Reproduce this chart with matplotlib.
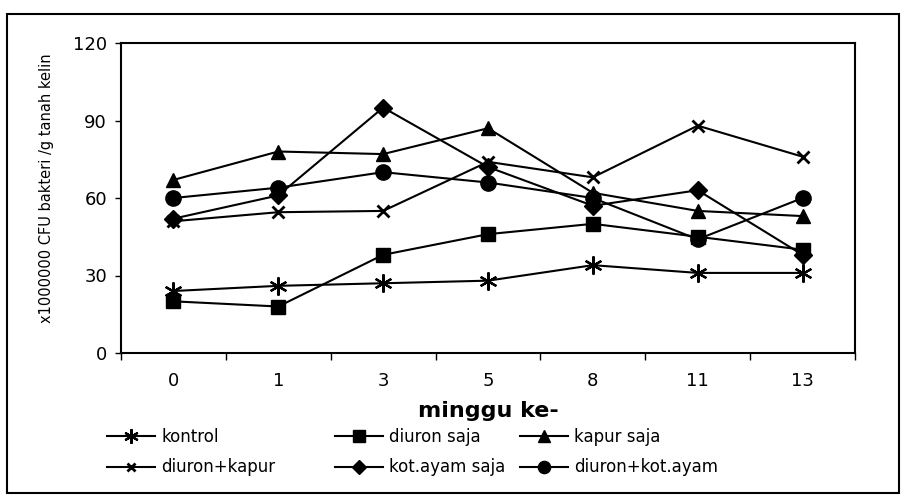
import numpy as np
from matplotlib import pyplot as plt
from matplotlib.patches import Rectangle

plt.rcParams['font.family'] = ['DejaVu Sans']

weeks = ["0", "1", "3", "5", "8", "11", "13"]

kontrol = [24, 26, 27, 28, 34, 31, 31]
diuron_saja = [20, 18, 38, 46, 50, 45, 40]
kapur_saja = [67, 78, 77, 87, 62, 55, 53]
diuron_kapur = [51, 54.5, 55, 74, 68, 88, 76]
kot_ayam_saja = [52, 61, 95, 72, 57, 63, 38]
diuron_kot_ayam = [60, 64, 70, 66, 60, 44, 60]

series = [
    ("kontrol", kontrol, (6, 2, 0), 13, 1.6),
    ("diuron+kapur", diuron_kapur, "x", 8, 2.0),
    ("diuron saja", diuron_saja, "s", 10, 1.0),
    ("kot.ayam saja", kot_ayam_saja, "D", 9, 1.0),
    ("kapur saja", kapur_saja, "^", 10, 1.0),
    ("diuron+kot.ayam", diuron_kot_ayam, "o", 11, 1.0),
]

fig = plt.figure(figsize=(9.06, 4.97), dpi=100)
ax = fig.add_axes([121 / 906, 1 - 353 / 497, 734 / 906, 310 / 497])

x = np.arange(len(weeks))
handles = []
for name, vals, mk, ms, mew in series:
    h, = ax.plot(x, vals, color="black", lw=1.5, marker=mk, markersize=ms,
                 markeredgewidth=mew, markerfacecolor="black",
                 markeredgecolor="black", label=name)
    handles.append(h)

ax.set_xlim(-0.5, len(weeks) - 0.5)
ax.set_ylim(0, 120)
ax.set_yticks([0, 30, 60, 90, 120])
ax.tick_params(axis="y", labelsize=13, length=4, width=1, pad=6)
ax.set_xticks(x)
ax.set_xticklabels(weeks)
ax.tick_params(axis="x", which="major", length=0, labelsize=13, pad=14)
ax.set_xticks(np.arange(-0.5, len(weeks) + 0.5), minor=True)
ax.tick_params(axis="x", which="minor", length=5, width=1)
for s in ax.spines.values():
    s.set_linewidth(1.5)

ax.set_xlabel("minggu ke-", fontsize=16, fontweight="bold", labelpad=0)
ax.xaxis.set_label_coords(0.5, -0.155)
fig.text(47 / 906, 1 - 188 / 497, "x1000000 CFU bakteri /g tanah kelin",
         rotation=90, ha="center", va="center", fontsize=10.5)

# one legend per column, so each column can sit where it belongs
col_x = [107, 335, 520]
for i, cx in enumerate(col_x):
    fig.legend(handles=handles[2 * i:2 * i + 2], loc="upper left",
               bbox_to_anchor=(cx / 906, 1 - 428 / 497), frameon=False,
               fontsize=12, handlelength=2.9, handletextpad=0.35,
               labelspacing=0.75, markerscale=0.8, borderpad=0,
               borderaxespad=0)

fig.patches.append(Rectangle((7 / 906, 1 - 493 / 497), 892 / 906, 479 / 497,
                             transform=fig.transFigure, fill=False,
                             edgecolor="black", lw=1.5))

fig.savefig("out.png", dpi=100)
